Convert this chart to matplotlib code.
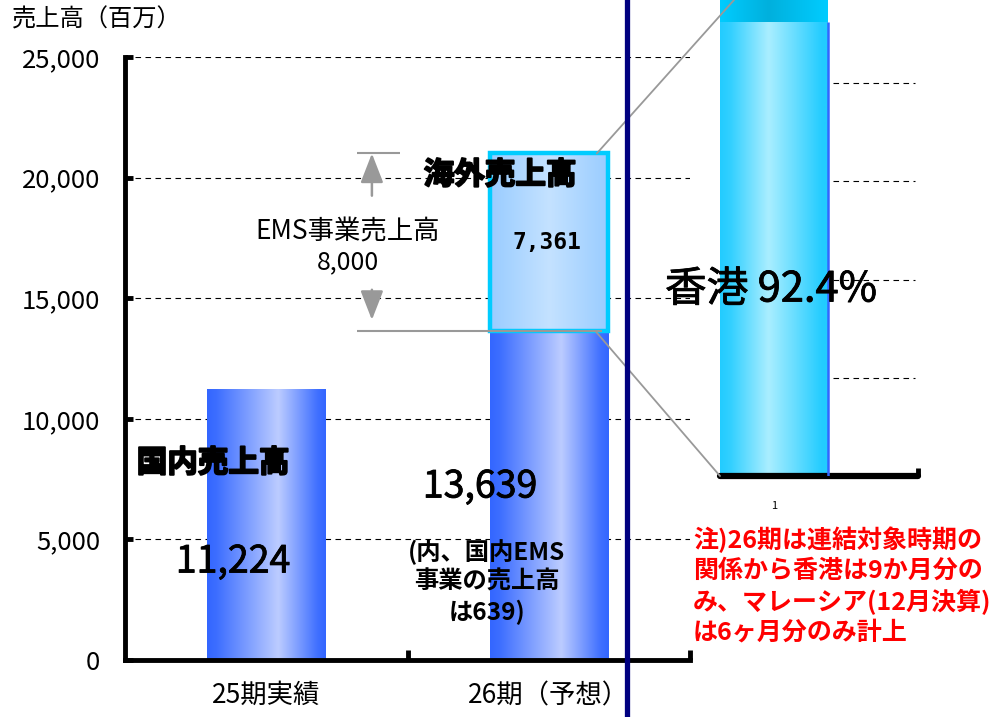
import numpy as np
import matplotlib
matplotlib.use('Agg')
import matplotlib.pyplot as plt
import matplotlib.patheffects as pe
from matplotlib.colors import LinearSegmentedColormap
from matplotlib.patches import ConnectionPatch
from matplotlib.lines import Line2D

plt.rcParams['font.family'] = ['Noto Sans CJK JP', 'DejaVu Sans']

# data
categories = ['25期実績', '26期（予想）']
domestic = [11224, 13639]
overseas = [0, 7361]
ems_total = 8000
ems_domestic = 639
yticks = [0, 5000, 10000, 15000, 20000, 25000]
hk_share = 92.4
my_share = 7.6
inset_grid = [20, 40, 60, 80]
note = ['注)26期は連結対象時期の',
        '関係から香港は9か月分の',
        'み、マレーシア(12月決算)',
        'は6ヶ月分のみ計上']

W, H = 999, 717
def fx(px):
    return px / W
def fy(py):
    return 1 - py / H

blue = LinearSegmentedColormap.from_list('blue', [(0, '#3366FF'), (0.08, '#3D6EFF'), (0.6, '#BCCCFF'), (0.93, '#4070FF'), (1, '#3366FF')])
light = LinearSegmentedColormap.from_list('light', [(0, '#99CCFF'), (0.5, '#C4E2FF'), (1, '#99CCFF')])
cyan = LinearSegmentedColormap.from_list('cyan', [(0, '#22CCFF'), (0.1, '#33D0FF'), (0.45, '#AAEEFF'), (0.95, '#22CCFF'), (1, '#22CCFF')])
capc = LinearSegmentedColormap.from_list('cap', [(0, '#00CCFF'), (0.45, '#00B0DD'), (1, '#00CCFF')])

heavy = [pe.withStroke(linewidth=1.4, foreground='black')]
semi = [pe.withStroke(linewidth=0.6, foreground='black')]

def grad(ax, rect, cmap, z):
    x, y = rect.get_xy()
    w, h = rect.get_width(), rect.get_height()
    if h <= 0:
        return
    im = ax.imshow(np.linspace(0, 1, 256).reshape(1, -1), extent=[x, x + w, y, y + h],
                   aspect='auto', cmap=cmap, zorder=z, interpolation='bicubic')
    im.set_clip_path(rect)

fig = plt.figure(figsize=(W / 100, H / 100), dpi=100)

# main chart
ax = fig.add_axes([fx(125), fy(660), (690 - 125) / W, (660 - 57) / H])
x = np.array([0.5, 1.5])
bw = 0.418
b1 = ax.bar(x, domestic, width=bw, color='none', zorder=2)
for r in b1:
    grad(ax, r, blue, 2)
b2 = ax.bar(x, overseas, bottom=domestic, width=bw, facecolor='none',
            edgecolor=['none', '#00CCFF'], linewidth=3.2, zorder=4)
for r in b2:
    grad(ax, r, light, 3)

ax.set_xlim(0, 2)
ax.set_ylim(0, 25000)
ax.set_yticks(yticks, [f'{v:,}' for v in yticks])
ax.yaxis.grid(True, linestyle=(0, (5, 4)), color='black', lw=0.8)
ax.set_axisbelow(True)
ax.tick_params(axis='y', direction='in', length=6, width=3.5, pad=18, labelsize=18.5)
ax.set_xticks(x, categories)
ax.set_xticks([1, 2], minor=True)
ax.tick_params(axis='x', which='major', length=0, pad=16, labelsize=19)
ax.tick_params(axis='x', which='minor', direction='in', length=7, width=3.5)
for s in ['top', 'right']:
    ax.spines[s].set_visible(False)
for s in ['left', 'bottom']:
    ax.spines[s].set_linewidth(3.5)
    ax.spines[s].set_capstyle('projecting')

# EMS dimension lines and arrows
total = domestic[1] + overseas[1]
ax.hlines(total, 0.82, 0.975, color='#999999', lw=1.5, zorder=5)
ax.hlines(domestic[1], 0.82, 1.69, color='#999999', lw=1.5, zorder=5)
ap = dict(arrowstyle='-|>,head_length=0.9,head_width=0.35', color='#999999', lw=1.8,
          mutation_scale=20, shrinkA=0, shrinkB=0)
ax.annotate('', xy=(0.874, total), xytext=(0.874, 19250), arrowprops=ap, zorder=5)
ax.annotate('', xy=(0.874, domestic[1] + 460), xytext=(0.874, 15350), arrowprops=ap, zorder=5)

# inset (zoomed overseas bar)
ax2 = fig.add_axes([fx(720), fy(476), 198 / W, 476 / H])
ib1 = ax2.bar([0.5], [hk_share], width=1, color='none', zorder=2)
grad(ax2, ib1[0], cyan, 2)
ib2 = ax2.bar([0.5], [my_share], bottom=[hk_share], width=1, color='none', zorder=2)
grad(ax2, ib2[0], capc, 2)
r = ib1[0]
ax2.vlines(r.get_x() + r.get_width(), 0, hk_share, color='#3366FF', lw=1.8, zorder=3)
for g in inset_grid:
    ax2.axhline(g, 0.57, 0.985, linestyle=(0, (5, 4)), color='black', lw=0.8, zorder=1)
ax2.set_xlim(0, 198 / 108)
ax2.set_ylim(0, 96.9)
ax2.set_yticks([])
ax2.set_xticks([0.5], ['1'])
ax2.set_xticks([198 / 108], minor=True)
ax2.tick_params(axis='x', which='major', length=0, pad=18, labelsize=8)
ax2.tick_params(axis='x', which='minor', direction='in', length=6, width=3.5)
for s in ['top', 'right', 'left']:
    ax2.spines[s].set_visible(False)
ax2.spines['bottom'].set_linewidth(4.5)
ax2.spines['bottom'].set_capstyle('round')

# connector lines
for xa, ya, xb, yb in [(1.67, total, 0.13, 96.9), (1.665, domestic[1], 0.0, 0.0)]:
    cp = ConnectionPatch(xyA=(xa, ya), coordsA=ax.transData, xyB=(xb, yb), coordsB=ax2.transData,
                         color='#999999', lw=1.3)
    fig.add_artist(cp)

# divider
fig.add_artist(Line2D([fx(627), fx(627)], [0, 1], color='#000080', lw=3.8, transform=fig.transFigure))

# texts
fig.text(fx(12), fy(20), '売上高（百万）', fontsize=17.5, va='center', ha='left')
fig.text(fx(348), fy(232), 'EMS事業売上高', fontsize=19, ha='center', va='center')
fig.text(fx(348), fy(262), f'{ems_total:,}', fontsize=18, ha='center', va='center')
fig.text(fx(500), fy(175), '海外売上高', fontsize=22, fontweight='bold', ha='center', va='center',
         path_effects=heavy)
fig.text(fx(547), fy(243), f'{overseas[1]:,}', fontsize=16.5, fontweight='bold', ha='center', va='center',
         family='DejaVu Sans Mono')
fig.text(fx(213), fy(463), '国内売上高', fontsize=22, fontweight='bold', ha='center', va='center',
         path_effects=heavy)
fig.text(fx(233), fy(562), f'{domestic[0]:,}', fontsize=27, ha='center', va='center', path_effects=semi)
fig.text(fx(480), fy(487), f'{domestic[1]:,}', fontsize=27, ha='center', va='center', path_effects=semi)
for i, t in enumerate(['(内、国内EMS', '事業の売上高', f'は{ems_domestic})']):
    fig.text(fx(487), fy(552 + 30 * i), t, fontsize=17.5, fontweight='bold', ha='center', va='center')
fig.text(fx(771), fy(290), f'香港 {hk_share}%', fontsize=30, ha='center', va='center', path_effects=semi)
for i, t in enumerate(note):
    fig.text(fx(693), fy(540 + 31 * i), t, fontsize=18, fontweight='bold', color='#FF0000',
             ha='left', va='center')

fig.savefig('out.png', dpi=100)
